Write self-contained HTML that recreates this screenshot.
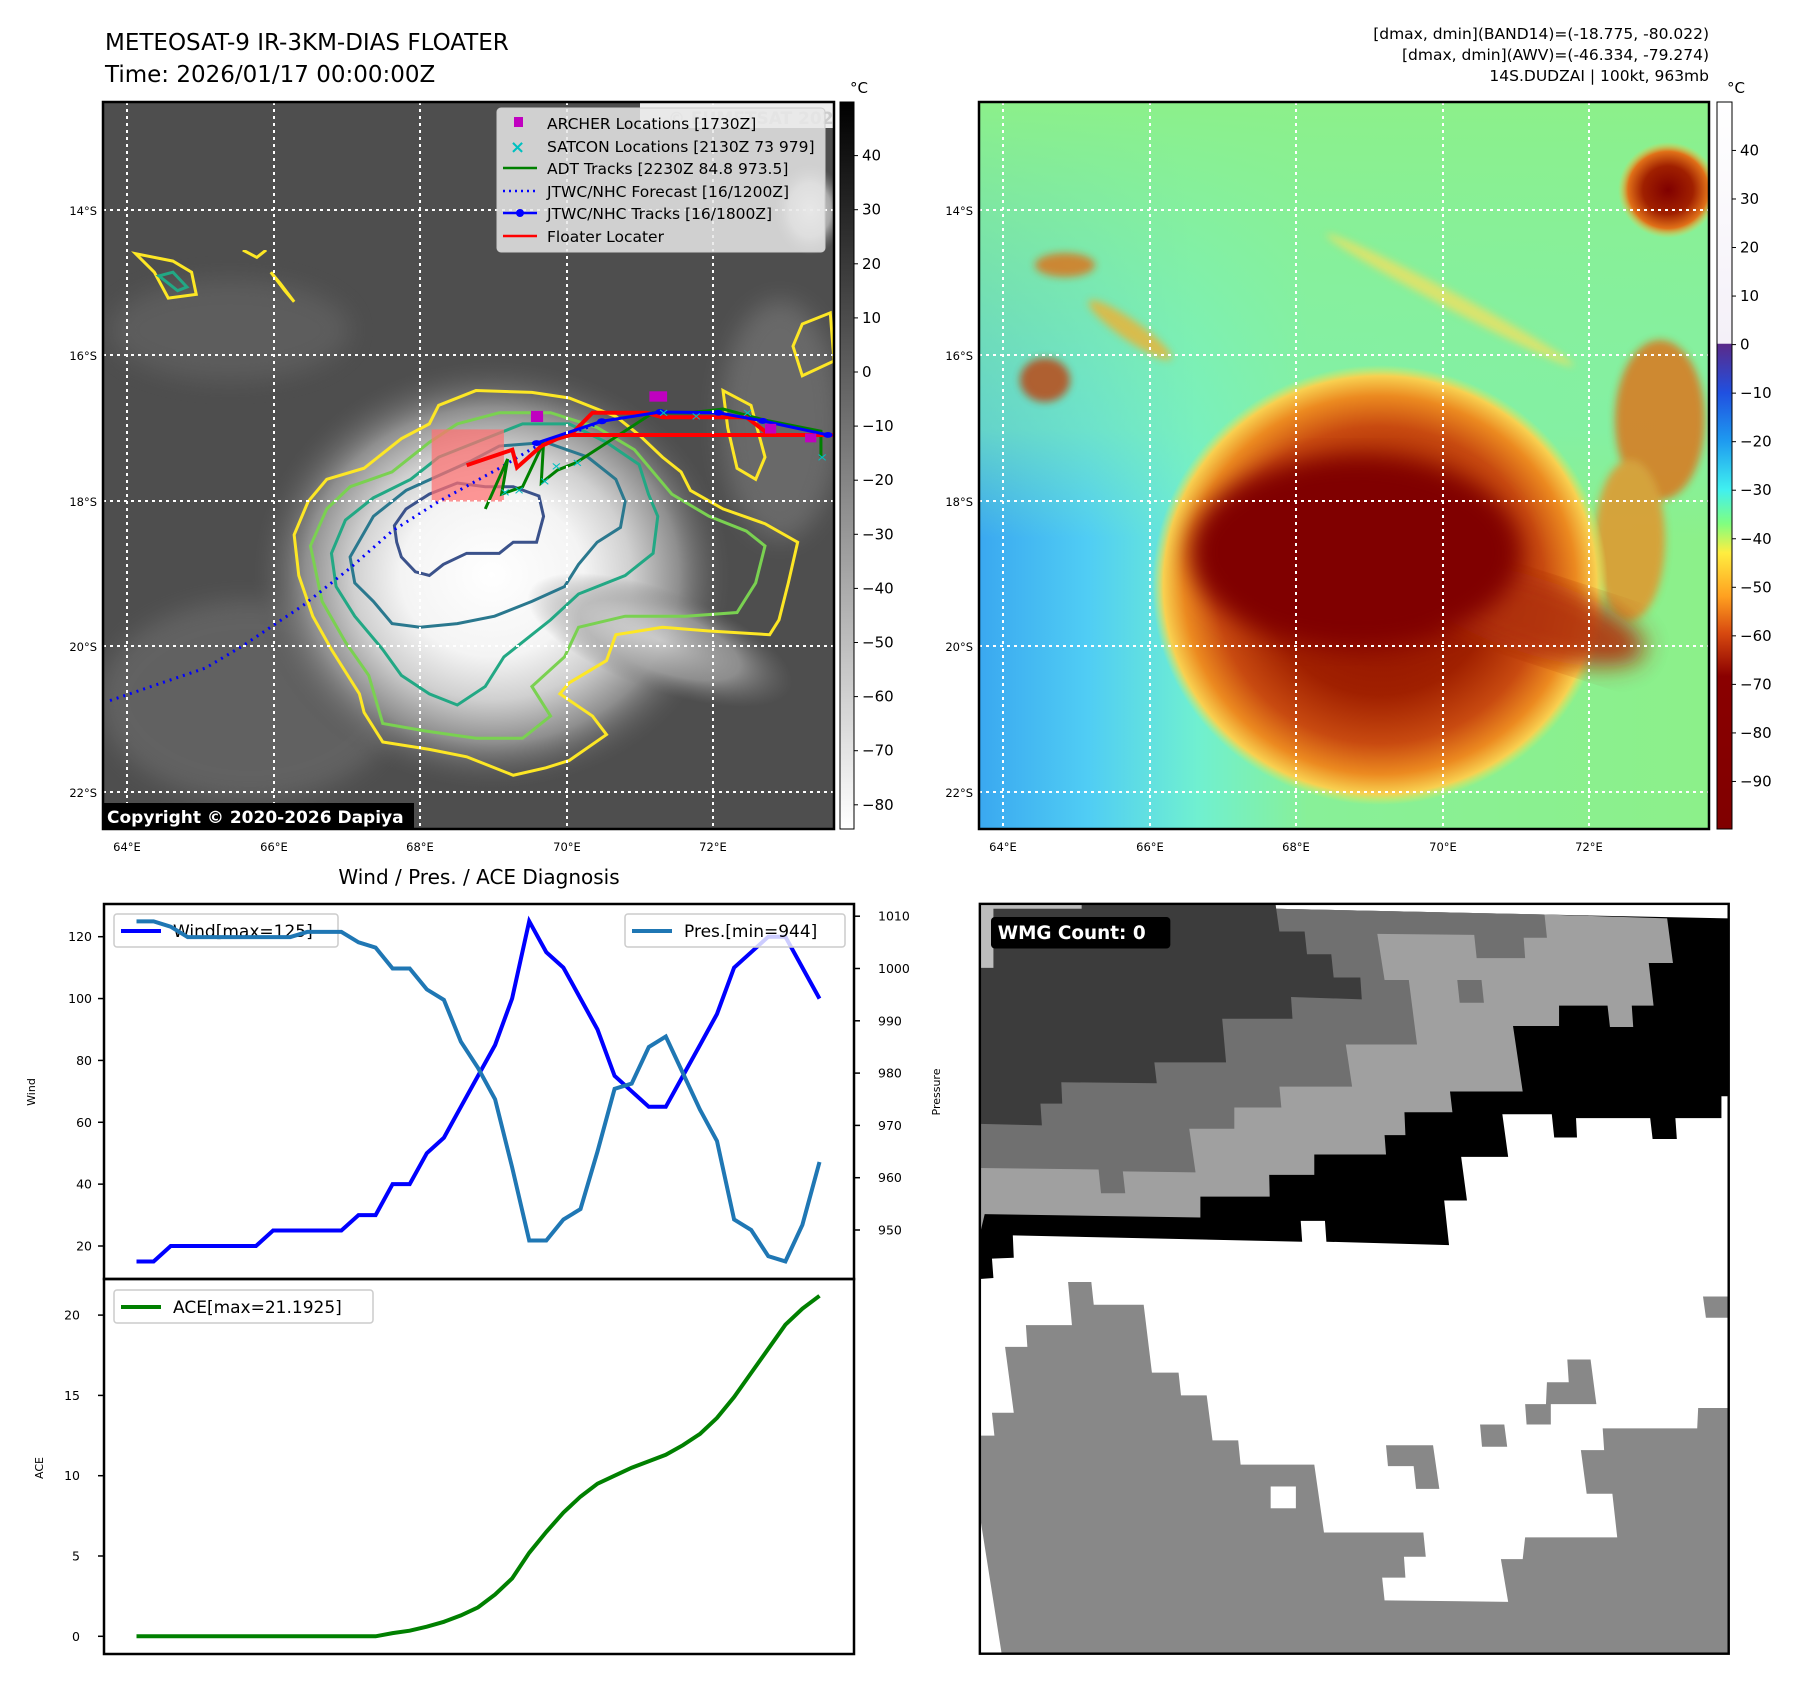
<!DOCTYPE html>
<html><head><meta charset="utf-8"><style>
body{margin:0;background:#fff;}
svg{display:block;font-family:"DejaVu Sans","Liberation Sans",sans-serif;}
</style></head><body>
<svg id="fig" width="1797" height="1690" viewBox="0 0 1797 1690" xmlns="http://www.w3.org/2000/svg">
<defs>
<radialGradient id="stormGray" cx="0.5" cy="0.5" r="0.5">
<stop offset="0" stop-color="#ffffff"/><stop offset="0.38" stop-color="#f4f4f4"/><stop offset="0.58" stop-color="#d0d0d0"/><stop offset="0.78" stop-color="#8e8e8e"/><stop offset="1" stop-color="#555" stop-opacity="0"/>
</radialGradient>
<linearGradient id="cbGray" x1="0" y1="0" x2="0" y2="1"><stop offset="0" stop-color="#000"/><stop offset="1" stop-color="#fff"/></linearGradient>
<linearGradient id="cbJet" x1="0" y1="0" x2="0" y2="1">
<stop offset="0" stop-color="#ffffff"/><stop offset="0.332" stop-color="#f4f0f8"/>
<stop offset="0.333" stop-color="#5a2a8a"/><stop offset="0.4" stop-color="#2050e0"/><stop offset="0.466" stop-color="#1e9af0"/>
<stop offset="0.533" stop-color="#40f0f0"/><stop offset="0.58" stop-color="#80ff80"/><stop offset="0.62" stop-color="#ffee40"/>
<stop offset="0.68" stop-color="#ffa020"/><stop offset="0.73" stop-color="#d84a10"/><stop offset="0.79" stop-color="#8a0000"/><stop offset="1" stop-color="#800000"/>
</linearGradient>
<linearGradient id="jetBg" x1="0" y1="0" x2="1" y2="0">
<stop offset="0" stop-color="#3aa8f0"/><stop offset="0.15" stop-color="#50cdf4"/><stop offset="0.3" stop-color="#70f0d0"/><stop offset="0.45" stop-color="#88f098"/><stop offset="1" stop-color="#8cf08a"/>
</linearGradient>
<linearGradient id="jetTop" x1="0" y1="0" x2="0" y2="1">
<stop offset="0" stop-color="#8cf08a" stop-opacity="1"/><stop offset="0.45" stop-color="#80f0b0" stop-opacity="0.6"/><stop offset="0.6" stop-color="#80f0b0" stop-opacity="0"/>
</linearGradient>
<radialGradient id="stormJet" cx="0.5" cy="0.5" r="0.5">
<stop offset="0" stop-color="#8a0a00"/><stop offset="0.5" stop-color="#a02000"/><stop offset="0.72" stop-color="#c84a10"/><stop offset="0.86" stop-color="#ec8a20"/><stop offset="0.95" stop-color="#f8d050"/><stop offset="1" stop-color="#d8f060" stop-opacity="0"/>
</radialGradient>
<radialGradient id="blobJet" cx="0.5" cy="0.5" r="0.5">
<stop offset="0" stop-color="#800000"/><stop offset="0.5" stop-color="#a02000"/><stop offset="0.8" stop-color="#e07018"/><stop offset="1" stop-color="#f0d040" stop-opacity="0"/>
</radialGradient>
<radialGradient id="blobGray" cx="0.5" cy="0.5" r="0.5">
<stop offset="0" stop-color="#e0e0e0"/><stop offset="0.6" stop-color="#a8a8a8"/><stop offset="1" stop-color="#777" stop-opacity="0"/>
</radialGradient>
<filter id="blur4"><feGaussianBlur stdDeviation="4"/></filter>
<filter id="blur12"><feGaussianBlur stdDeviation="12"/></filter>
<clipPath id="clipL"><rect x="103" y="102" width="731" height="727"/></clipPath>
<clipPath id="clipR"><rect x="979" y="102" width="730" height="727"/></clipPath>
</defs>

<text x="105" y="50" font-size="23">METEOSAT-9 IR-3KM-DIAS FLOATER</text>
<text x="105" y="82" font-size="23">Time: 2026/01/17 00:00:00Z</text>
<g font-size="15.5" text-anchor="end">
<text x="1709" y="39">[dmax, dmin](BAND14)=(-18.775, -80.022)</text>
<text x="1709" y="60">[dmax, dmin](AWV)=(-46.334, -79.274)</text>
<text x="1709" y="81">14S.DUDZAI | 100kt, 963mb</text>
</g>

<!-- LEFT MAP -->
<g clip-path="url(#clipL)">
<rect x="103" y="102" width="731" height="727" fill="#4e4e4e"/>
<g filter="url(#blur12)" opacity="0.45">
<ellipse cx="250" cy="700" rx="150" ry="100" fill="#7a7a7a"/>
<ellipse cx="230" cy="330" rx="120" ry="50" fill="#707070"/>
<ellipse cx="780" cy="420" rx="60" ry="120" fill="#8a8a8a"/>
</g>
<ellipse cx="492" cy="575" rx="240" ry="215" fill="url(#stormGray)"/>
<ellipse cx="660" cy="640" rx="140" ry="50" fill="url(#blobGray)" transform="rotate(20 660 640)" opacity="0.7"/>
<ellipse cx="810" cy="210" rx="35" ry="45" fill="url(#blobGray)"/>
<svg x="103" y="250" width="731" height="580" viewBox="0 0 1568 1568" preserveAspectRatio="none">
<g fill="none" stroke-width="3" vector-effect="non-scaling-stroke">
<path vector-effect="non-scaling-stroke" stroke="#fde725" d="M410,770 L440,680 480,620 560,590 640,510 700,470 720,420 800,380 920,385 1000,400 1100,450 1150,500 1200,560 1240,600 1260,650 1330,700 1420,740 1490,790 1470,900 1450,1000 1430,1040 1300,1030 1200,1020 1100,1040 1080,1110 1000,1170 980,1200 1050,1260 1080,1310 1000,1380 950,1400 880,1420 780,1370 700,1350 600,1330 560,1250 550,1200 490,1080 450,990 420,880 Z"/>
<path vector-effect="non-scaling-stroke" stroke="#7ad151" d="M445,800 L480,700 530,640 620,600 700,520 760,470 850,440 960,440 1060,480 1140,540 1180,600 1220,660 1300,720 1380,760 1420,800 1400,900 1360,980 1250,990 1120,990 1020,1020 990,1100 920,1180 960,1260 900,1320 800,1320 690,1300 600,1280 570,1150 520,1060 470,950 Z"/>
<path vector-effect="non-scaling-stroke" stroke="#22a884" d="M490,820 L520,730 580,670 660,620 720,560 820,510 900,470 1000,470 1080,520 1150,580 1170,660 1190,720 1180,820 1120,880 1020,930 960,1000 920,1040 860,1100 820,1180 760,1230 700,1200 640,1150 600,1080 540,990 500,910 Z"/>
<path vector-effect="non-scaling-stroke" stroke="#2a788e" d="M530,830 L580,720 650,650 720,610 790,570 850,530 950,520 1040,560 1100,620 1120,680 1110,750 1060,790 1020,850 990,910 920,950 840,990 760,1010 680,1020 620,1010 580,950 540,900 Z"/>
<path vector-effect="non-scaling-stroke" stroke="#3b528b" d="M625,745 L650,700 700,660 760,630 820,640 880,640 935,665 945,720 930,790 880,790 850,820 780,820 730,850 700,880 670,870 640,830 630,790 Z"/>
<path vector-effect="non-scaling-stroke" stroke="#fde725" d="M70,10 L110,60 140,130 200,120 190,60 150,30 Z M300,0 L330,20 350,0 M360,60 L390,110 410,140 380,90 Z M1500,200 L1560,170 1568,300 1500,340 1480,260 Z M1330,380 L1390,420 1420,560 1400,620 1360,590 1340,480 Z"/>
<path vector-effect="non-scaling-stroke" stroke="#22a884" d="M120,70 L160,110 180,100 150,60 Z"/>
</g>
<rect x="705" y="485" width="155" height="195" fill="#ff7070" opacity="0.72"/>
<path vector-effect="non-scaling-stroke" fill="none" stroke="#0000ff" stroke-width="3" stroke-dasharray="2,5" d="M15,1218 L220,1130 300,1070 430,960 530,860 620,760 720,680 850,590 930,530 1060,470"/>
<path vector-effect="non-scaling-stroke" fill="none" stroke="#008000" stroke-width="3" d="M820,700 L868,565 855,660 900,640 945,520 940,630 975,595 1015,575 1180,440 1260,440 1330,430 1420,460 1540,490 1540,560"/>
<path vector-effect="non-scaling-stroke" fill="none" stroke="#ff0000" stroke-width="4" d="M780,582 L878,540 888,588 940,530 975,510 1003,500 1568,500 M1003,500 L1050,440 1165,440 1200,452 1380,452 1425,495"/>
<path vector-effect="non-scaling-stroke" fill="none" stroke="#0000ff" stroke-width="3" d="M930,522 L1070,463 1195,438 1320,440 1415,462 1555,500"/>
<g fill="#0000ff">
<ellipse cx="930" cy="522" rx="10" ry="8"/><ellipse cx="1070" cy="463" rx="10" ry="8"/><ellipse cx="1195" cy="438" rx="10" ry="8"/><ellipse cx="1320" cy="440" rx="10" ry="8"/><ellipse cx="1415" cy="462" rx="10" ry="8"/><ellipse cx="1555" cy="500" rx="10" ry="8"/>
</g>
<g fill="#00c0c0" font-size="30">
<text x="850" y="665">×</text><text x="880" y="660">×</text><text x="935" y="635">×</text><text x="960" y="595">×</text><text x="1005" y="585">×</text><text x="1190" y="450">×</text><text x="1260" y="460">×</text><text x="1370" y="450">×</text><text x="1530" y="570">×</text>
</g>
<g fill="#c000c0">
<rect x="918" y="435" width="26" height="30"/><rect x="1172" y="382" width="38" height="28"/><rect x="1420" y="470" width="24" height="26"/><rect x="1506" y="496" width="24" height="24"/>
</g>
</svg>
<g stroke="#fff" stroke-width="2" stroke-dasharray="3,4">
<line x1="127" y1="102" x2="127" y2="829"/><line x1="274" y1="102" x2="274" y2="829"/><line x1="420" y1="102" x2="420" y2="829"/><line x1="567" y1="102" x2="567" y2="829"/><line x1="713" y1="102" x2="713" y2="829"/>
<line x1="103" y1="210" x2="834" y2="210"/><line x1="103" y1="355" x2="834" y2="355"/><line x1="103" y1="501" x2="834" y2="501"/><line x1="103" y1="646" x2="834" y2="646"/><line x1="103" y1="792" x2="834" y2="792"/>
</g>
<rect x="103" y="803" width="311" height="27" fill="#000"/>
<text x="107" y="823" font-size="17" font-weight="bold" fill="#fff">Copyright © 2020-2026 Dapiya</text>
<rect x="640" y="102" width="194" height="26" fill="#fff" opacity="0.9"/>
<text x="668" y="124" font-size="17" font-weight="bold" fill="#ccc">© EUMETSAT 2026</text>
</g>
<rect x="103" y="102" width="731" height="727" fill="none" stroke="#000" stroke-width="2.5"/>

<g>
<rect x="497" y="108" width="328" height="144" rx="4" fill="#e8e8e8" fill-opacity="0.85" stroke="#ccc"/>
<rect x="514" y="117" width="9" height="10" fill="#c000c0"/>
<text x="510" y="153" font-size="18" font-weight="bold" fill="#00c0c0">×</text>
<line x1="503" y1="168" x2="537" y2="168" stroke="#008000" stroke-width="2.5"/>
<line x1="503" y1="191" x2="537" y2="191" stroke="#0000ff" stroke-width="2.5" stroke-dasharray="2,4"/>
<line x1="503" y1="213" x2="537" y2="213" stroke="#0000ff" stroke-width="2.5"/><circle cx="520" cy="213" r="4" fill="#0000ff"/>
<line x1="503" y1="236" x2="537" y2="236" stroke="#ff0000" stroke-width="2.5"/>
<g font-size="15.5"><text x="547" y="129">ARCHER Locations [1730Z]</text><text x="547" y="152">SATCON Locations [2130Z 73 979]</text><text x="547" y="174">ADT Tracks [2230Z 84.8 973.5]</text><text x="547" y="197">JTWC/NHC Forecast [16/1200Z]</text><text x="547" y="219">JTWC/NHC Tracks [16/1800Z]</text><text x="547" y="242">Floater Locater</text></g>
</g>

<g font-size="11.5">
<g text-anchor="end"><text x="97" y="215">14°S</text><text x="97" y="360">16°S</text><text x="97" y="506">18°S</text><text x="97" y="651">20°S</text><text x="97" y="797">22°S</text></g>
<g text-anchor="middle"><text x="127" y="851">64°E</text><text x="274" y="851">66°E</text><text x="420" y="851">68°E</text><text x="567" y="851">70°E</text><text x="713" y="851">72°E</text></g>
</g>
<g font-size="11.5">
<g text-anchor="end"><text x="973" y="215">14°S</text><text x="973" y="360">16°S</text><text x="973" y="506">18°S</text><text x="973" y="651">20°S</text><text x="973" y="797">22°S</text></g>
<g text-anchor="middle"><text x="1003" y="851">64°E</text><text x="1150" y="851">66°E</text><text x="1296" y="851">68°E</text><text x="1443" y="851">70°E</text><text x="1589" y="851">72°E</text></g>
</g>

<g>
<rect x="840" y="102" width="14" height="727" fill="url(#cbGray)" stroke="#000" stroke-width="1"/>
<text x="850" y="93" font-size="15">°C</text>
<g id="cbLticks" font-size="15"></g>
</g>

<!-- RIGHT MAP -->
<g clip-path="url(#clipR)">
<rect x="979" y="102" width="730" height="727" fill="url(#jetBg)"/>
<rect x="979" y="102" width="730" height="727" fill="url(#jetTop)"/>
<g filter="url(#blur4)" opacity="0.8">
<ellipse cx="1065" cy="265" rx="30" ry="12" fill="#e07018"/>
<ellipse cx="1045" cy="380" rx="25" ry="22" fill="#c04010"/>
<ellipse cx="1130" cy="330" rx="50" ry="10" fill="#f0b030" transform="rotate(35 1130 330)"/>
<ellipse cx="1450" cy="300" rx="140" ry="8" fill="#f0e060" transform="rotate(28 1450 300)"/>
<ellipse cx="1660" cy="420" rx="45" ry="80" fill="#e07018"/>
<ellipse cx="1630" cy="540" rx="35" ry="80" fill="#e89028"/>
</g>
<ellipse cx="1668" cy="190" rx="50" ry="48" fill="url(#blobJet)"/>
<ellipse cx="1380" cy="585" rx="228" ry="220" fill="url(#stormJet)"/>
<ellipse cx="1530" cy="615" rx="120" ry="38" fill="#b03008" transform="rotate(18 1530 615)" filter="url(#blur12)" opacity="0.9"/>
<ellipse cx="1355" cy="552" rx="165" ry="95" fill="#800000" filter="url(#blur12)"/>
<g stroke="#fff" stroke-width="2" stroke-dasharray="3,4">
<line x1="1003" y1="102" x2="1003" y2="829"/><line x1="1150" y1="102" x2="1150" y2="829"/><line x1="1296" y1="102" x2="1296" y2="829"/><line x1="1443" y1="102" x2="1443" y2="829"/><line x1="1589" y1="102" x2="1589" y2="829"/>
<line x1="979" y1="210" x2="1709" y2="210"/><line x1="979" y1="355" x2="1709" y2="355"/><line x1="979" y1="501" x2="1709" y2="501"/><line x1="979" y1="646" x2="1709" y2="646"/><line x1="979" y1="792" x2="1709" y2="792"/>
</g>
</g>
<rect x="979" y="102" width="730" height="727" fill="none" stroke="#000" stroke-width="2.5"/>
<g>
<rect x="1717" y="102" width="15" height="727" fill="url(#cbJet)" stroke="#000" stroke-width="1"/>
<text x="1727" y="93" font-size="15">°C</text>
<g id="cbRticks" font-size="15"></g>
</g>

<text x="479" y="884" font-size="20" text-anchor="middle">Wind / Pres. / ACE Diagnosis</text>
<g id="chart"></g>

<svg x="975" y="900" width="760" height="760" viewBox="0 0 1568 1568" preserveAspectRatio="none">
<rect x="10" y="8" width="1545" height="1547" fill="#fff"/>
<path fill="#888" d="M10,1105 L40,1105 35,1058 80,1058 62,922 108,922 105,877 200,877 192,788 240,788 245,835 348,835 365,975 420,975 425,1022 478,1022 490,1115 543,1115 548,1165 700,1165 720,1305 925,1305 930,1355 885,1355 888,1398 840,1398 845,1445 1100,1448 1085,1360 1130,1360 1135,1315 1325,1315 1315,1225 1262,1225 1250,1135 1298,1135 1295,1090 1490,1090 1492,1048 1540,1048 1555,1048 1555,1555 55,1555 10,1270 Z M1502,818 H1555 V862 H1508 Z M1222,948 H1270 L1282,1040 H1178 L1180,995 H1225 Z M1135,1040 H1188 V1082 H1138 Z M1042,1082 H1092 L1098,1128 H1046 Z M848,1125 H945 L958,1215 H910 L905,1168 H852 Z"/>
<rect x="610" y="1210" width="52" height="45" fill="#fff"/>
<path fill="#000" d="M10,8 L1555,8 1555,405 1540,405 1540,450 1445,450 1448,493 1398,493 1393,450 1240,450 1242,490 1195,490 1190,442 1088,442 1100,530 1003,530 1015,620 968,620 978,712 725,705 722,662 672,662 675,705 78,692 80,738 35,740 38,780 10,782 Z"/>
<path fill="#fff" d="M620,8 L1555,8 1555,38 1175,30 620,18 Z"/>
<path fill="#a0a0a0" d="M10,8 L620,8 620,18 1175,30 1428,38 1440,130 1390,130 1400,218 1355,218 1358,262 1310,262 1305,218 1205,218 1205,260 1110,260 1130,395 980,395 985,438 886,438 888,485 845,485 848,525 700,525 700,567 607,567 608,612 465,612 465,655 20,648 10,690 Z"/>
<path fill="#707070" d="M10,8 L620,8 620,18 1175,30 1180,78 1132,78 1135,120 1035,120 1030,72 830,70 845,165 895,165 912,298 765,298 778,385 628,385 632,428 535,428 535,472 442,472 455,562 305,560 310,605 260,605 255,556 10,553 Z M995,165 H1045 L1050,212 H1000 Z"/>
<path fill="#3c3c3c" d="M10,8 L620,8 628,65 680,65 685,112 735,112 740,160 795,160 798,205 652,200 655,245 510,245 518,335 370,335 375,378 178,376 180,420 135,420 138,465 10,462 Z"/>
<rect x="10" y="8" width="210" height="10" fill="#bdbdbd"/><rect x="10" y="8" width="28" height="132" fill="#bdbdbd"/>
<rect x="33" y="35" width="370" height="65" rx="8" fill="#000"/>
<text x="47" y="80" font-size="38" font-weight="bold" fill="#fff">WMG Count: 0</text>
<rect x="10" y="8" width="1545" height="1547" fill="none" stroke="#000" stroke-width="5"/>
</svg>
</svg>

<script>
const windValues = [15,15,20,20,20,20,20,20,25,25,25,25,25,30,30,40,40,50,55,65,75,85,100,125,115,110,100,90,75,70,65,65,75,85,95,110,115,120,120,110,100];
const presValues = [1009,1009,1008,1006,1006,1006,1006,1006,1006,1006,1007,1007,1007,1005,1004,1000,1000,996,994,986,981,975,962,948,948,952,954,965,977,978,985,987,980,973,967,952,950,945,944,951,963];
const aceValues = [0,0,0,0,0,0,0,0,0,0,0,0,0,0,0,0.2,0.35,0.6,0.9,1.3,1.8,2.6,3.6,5.2,6.5,7.7,8.7,9.5,10.0,10.5,10.9,11.3,11.9,12.6,13.6,14.9,16.4,17.9,19.4,20.4,21.2];
const windTicks = [20,40,60,80,100,120];
const presTicks = [950,960,970,980,990,1000,1010];
const aceTicks = [0,5,10,15,20];
const cbLTicks = [40,30,20,10,0,-10,-20,-30,-40,-50,-60,-70,-80];
const cbRTicks = [40,30,20,10,0,-10,-20,-30,-40,-50,-60,-70,-80,-90];

const NS='http://www.w3.org/2000/svg';
function mk(tag,attrs,parent,text){const e=document.createElementNS(NS,tag);for(const k in attrs)e.setAttribute(k,attrs[k]);if(text!==undefined)e.textContent=text;parent.appendChild(e);return e;}
const X0=136.5,X1=819.5;
function xs(i){return X0+(X1-X0)*i/(windValues.length-1);}
function yWind(v){return 1246-(v-20)*3.093;}
function yPres(v){return 1230-(v-950)*5.23;}
function yAce(v){return 1636.3-v*16.06;}
function cbL(v){return 372-v*5.41;}
function cbR(v){return 344.6-v*4.854;}
function minus(v){return String(v).replace('-','\u2212');}

const gL=document.getElementById('cbLticks');
cbLTicks.forEach(v=>{const y=cbL(v);
 const l=mk('line',{x1:854,x2:858,y1:y,y2:y,stroke:'#000'},gL);
 
 
 const t=mk('text',{x:862,y:y+5},gL,minus(v));
 
 
});
const gR=document.getElementById('cbRticks');
cbRTicks.forEach(v=>{const y=cbR(v);
 const l=mk('line',{x1:1732,x2:1736,y1:y,y2:y,stroke:'#000'},gR);
 
 
 const t=mk('text',{x:1740,y:y+5},gR,minus(v));
 
 
});

const g=document.getElementById('chart');
function legend(x,y,w,color,label,name){
 const r=mk('rect',{x:x,y:y,width:w,height:33,rx:3,fill:'#fff','fill-opacity':0.8,stroke:'#ccc','stroke-width':1.5},g);
 
 
 mk('line',{x1:x+7,x2:x+47,y1:y+17,y2:y+17,stroke:color,'stroke-width':4},g);
 mk('text',{x:x+59,y:y+23,'font-size':17},g,label);
}
function line(vals,yf,color,w,name){
 const d=vals.map((v,i)=>(i?'L':'M')+xs(i).toFixed(1)+','+yf(v).toFixed(1)).join(' ');
 const p=mk('path',{d:d,fill:'none',stroke:color,'stroke-width':w,'stroke-linejoin':'miter'},g);
 
 
}
legend(114,914,224,'#0000ff','Wind[max=125]','wind-legend');
line(windValues,yWind,'#0000ff',4,'wind-line');
line(presValues,yPres,'#1f77b4',4,'pressure-line');
legend(625,914,220,'#1f77b4','Pres.[min=944]','pressure-legend');
line(aceValues,yAce,'#008000',4,'ace-line');
legend(114,1290,259,'#008000','ACE[max=21.1925]','ace-legend');

windTicks.forEach(v=>{const y=yWind(v);
 const l=mk('line',{x1:98,x2:104,y1:y,y2:y,stroke:'#000','stroke-width':1.5},g);
 
 
 const t=mk('text',{x:92,y:y+4.5,'font-size':12.5,'text-anchor':'end'},g,v);
 
 
});
presTicks.forEach(v=>{const y=yPres(v);
 const l=mk('line',{x1:854,x2:860,y1:y,y2:y,stroke:'#000','stroke-width':1.5},g);
 
 
 const t=mk('text',{x:878,y:y+4.5,'font-size':12.5},g,v);
 
 
});
aceTicks.forEach(v=>{const y=yAce(v);
 const l=mk('line',{x1:98,x2:104,y1:y,y2:y,stroke:'#000','stroke-width':1.5},g);
 
 
 const t=mk('text',{x:80,y:y+4.5,'font-size':12.5,'text-anchor':'end'},g,v);
 
 
});
const r1=mk('rect',{x:104,y:904,width:750,height:375,fill:'none',stroke:'#000','stroke-width':2.5},g);


const r2=mk('rect',{x:104,y:1279,width:750,height:375,fill:'none',stroke:'#000','stroke-width':2.5},g);


const a1=mk('text',{x:35,y:1092,'font-size':11,'text-anchor':'middle',transform:'rotate(-90 35 1092)'},g,'Wind');


const a2=mk('text',{x:940,y:1092,'font-size':11,'text-anchor':'middle',transform:'rotate(-90 940 1092)'},g,'Pressure');


const a3=mk('text',{x:43,y:1468,'font-size':11,'text-anchor':'middle',transform:'rotate(-90 43 1468)'},g,'ACE');


</script>
</body></html>
